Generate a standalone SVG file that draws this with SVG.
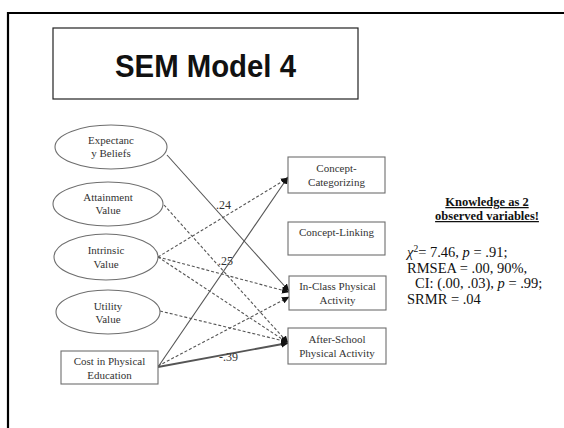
<svg xmlns="http://www.w3.org/2000/svg" width="564" height="428" viewBox="0 0 564 428">
  <style>
    .node-shape { fill: #ffffff; stroke: #6e6e6e; stroke-width: 1.1; }
    .node-text { font-family: "Liberation Serif", "Times New Roman", serif; font-size: 11px; fill: #333333; text-anchor: middle; }
    .edge { fill: none; stroke: #555555; stroke-width: 1.1; marker-end: url(#arrow); }
    .edge.dashed { stroke-dasharray: 3 2; }
    .edge.heavy { stroke-width: 1.8; }
    .coef { font-family: "Liberation Serif", "Times New Roman", serif; font-size: 12px; fill: #333333; }
    .stats { font-family: "Liberation Serif", "Times New Roman", serif; font-size: 14.5px; fill: #111111; }
    .note { font-family: "Liberation Serif", "Times New Roman", serif; font-size: 12.5px; font-weight: bold; fill: #111111; text-anchor: middle; text-decoration: underline; }
  </style>
  <defs>
    <marker id="arrow" markerUnits="userSpaceOnUse" markerWidth="8" markerHeight="7" refX="7" refY="3.5" orient="auto">
      <path d="M0,0 L7.5,3.5 L0,7 z" fill="#111111"/>
    </marker>
  </defs>

  <rect width="564" height="428" fill="#ffffff"/>
  <!-- slide frame -->
  <path d="M8,430 L8,13 L566,13" fill="none" stroke="#000000" stroke-width="2.2"/>

  <!-- title -->
  <g id="title">
    <rect x="53" y="28" width="305" height="71" fill="#ffffff" stroke="#222222" stroke-width="1.2"/>
    <text x="205.5" y="77" font-family="Liberation Sans, Arial, sans-serif" font-size="32" font-weight="bold" fill="#111111" text-anchor="middle" textLength="181" lengthAdjust="spacingAndGlyphs">SEM Model 4</text>
  </g>

  <!-- paths -->
  <g id="connectors">
    <line class="edge dashed" x1="164" y1="205" x2="288" y2="343"/>
    <line class="edge dashed" x1="158" y1="257" x2="288" y2="178"/>
    <line class="edge dashed" x1="158" y1="257" x2="289" y2="292"/>
    <line class="edge dashed" x1="158" y1="257" x2="288" y2="343"/>
    <line class="edge dashed" x1="160" y1="311" x2="288" y2="342"/>
    <line class="edge dashed" x1="158" y1="366" x2="289" y2="297"/>
    <line class="edge" x1="167" y1="155" x2="289" y2="291"/>
    <line class="edge" x1="158" y1="367" x2="288" y2="177"/>
    <line class="edge heavy" x1="158" y1="367" x2="288" y2="343"/>
    <text class="coef" x="216" y="209">.24</text>
    <text class="coef" x="218" y="265">.25</text>
    <text class="coef" x="219" y="361">-.39</text>
  </g>

  <!-- predictors -->
  <g id="expectancy">
    <ellipse class="node-shape" cx="111" cy="147" rx="56" ry="22"/>
    <text class="node-text" x="111" y="144">Expectanc</text>
    <text class="node-text" x="111" y="157">y Beliefs</text>
  </g>
  <g id="attainment">
    <ellipse class="node-shape" cx="108" cy="204" rx="55" ry="22"/>
    <text class="node-text" x="108" y="201">Attainment</text>
    <text class="node-text" x="108" y="214">Value</text>
  </g>
  <g id="intrinsic">
    <ellipse class="node-shape" cx="106" cy="257" rx="52" ry="23"/>
    <text class="node-text" x="106" y="254">Intrinsic</text>
    <text class="node-text" x="106" y="268">Value</text>
  </g>
  <g id="utility">
    <ellipse class="node-shape" cx="108" cy="312" rx="52" ry="22"/>
    <text class="node-text" x="108" y="310">Utility</text>
    <text class="node-text" x="108" y="323">Value</text>
  </g>
  <g id="cost">
    <rect class="node-shape" x="61" y="351" width="97" height="33"/>
    <text class="node-text" x="109.5" y="365">Cost in Physical</text>
    <text class="node-text" x="109.5" y="379">Education</text>
  </g>

  <!-- outcomes -->
  <g id="categorizing">
    <rect class="node-shape" x="288" y="157" width="97" height="36"/>
    <text class="node-text" x="336.5" y="172">Concept-</text>
    <text class="node-text" x="336.5" y="186">Categorizing</text>
  </g>
  <g id="linking">
    <rect class="node-shape" x="288" y="222" width="97" height="33"/>
    <text class="node-text" x="336.5" y="236">Concept-Linking</text>
  </g>
  <g id="inclass">
    <rect class="node-shape" x="289" y="276" width="97" height="34"/>
    <text class="node-text" x="337.5" y="290">In-Class Physical</text>
    <text class="node-text" x="337.5" y="304">Activity</text>
  </g>
  <g id="afterschool">
    <rect class="node-shape" x="288" y="328" width="98" height="36"/>
    <text class="node-text" x="337" y="343">After-School</text>
    <text class="node-text" x="337" y="357">Physical Activity</text>
  </g>

  <!-- fit summary -->
  <g id="fit">
    <text class="note" x="487" y="206">Knowledge as 2</text>
    <text class="note" x="487" y="220">observed variables!</text>
    <text class="stats" x="407" y="257"><tspan font-style="italic">χ</tspan><tspan font-size="9.5" dy="-5.5">2</tspan><tspan dy="5.5">= 7.46, </tspan><tspan font-style="italic">p</tspan> = .91;</text>
    <text class="stats" x="407" y="272.5">RMSEA = .00, 90%,</text>
    <text class="stats" x="415" y="288">CI: (.00, .03), <tspan font-style="italic">p</tspan> = .99;</text>
    <text class="stats" x="407" y="303.5">SRMR = .04</text>
  </g>
</svg>
